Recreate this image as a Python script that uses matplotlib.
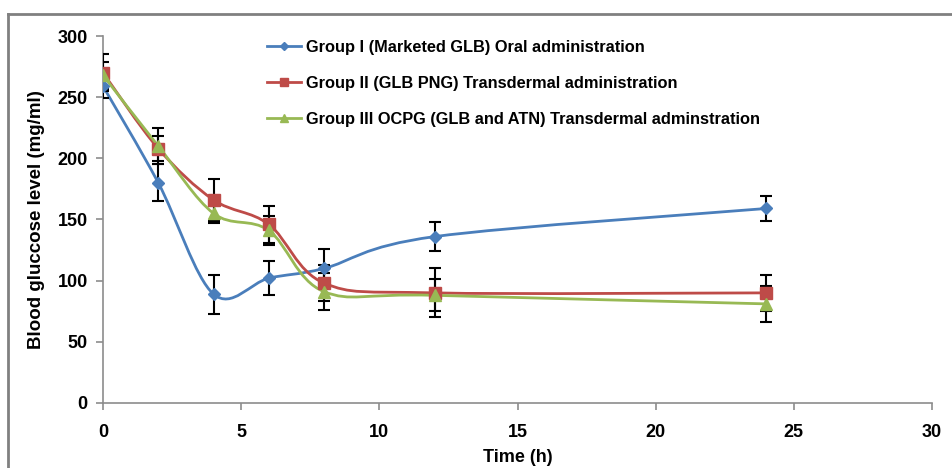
import numpy as np
import matplotlib.pyplot as plt
from matplotlib.path import Path
from matplotlib.patches import PathPatch
from matplotlib.lines import Line2D

plt.rcParams['font.family'] = ['Liberation Sans', 'DejaVu Sans']
plt.rcParams['font.weight'] = 'bold'

time_h = [0, 2, 4, 6, 8, 12, 24]

group1 = [259, 180, 89, 102, 110, 136, 159]
group1_err = [10, 15, 16, 14, 16, 12, 10.5]

group2 = [270, 208, 166, 146, 98, 90, 90]
group2_err = [15, 10, 17, 15, 15, 20, 15]

group3 = [268, 210, 155, 141, 91, 88, 81]
group3_err = [11, 15, 8, 12, 15, 13, 15]

labels = ["Group I (Marketed GLB) Oral administration",
          "Group II (GLB PNG) Transdermal administration",
          "Group III OCPG (GLB and ATN) Transdermal adminstration"]
colors = ['#4A7EBB', '#BE4B48', '#98B954']
markers = ['D', 's', '^']
marker_sizes = [6, 8, 8]


def smooth_path(x, y):
    # excel style smoothed line: bezier through each point, handles from neighbours
    pts = np.column_stack([x, y]).astype(float)
    verts = [pts[0]]
    codes = [Path.MOVETO]
    n = len(pts)
    for i in range(n - 1):
        p0 = pts[max(i - 1, 0)]
        p1 = pts[i]
        p2 = pts[i + 1]
        p3 = pts[min(i + 2, n - 1)]
        c1 = p1 + (p2 - p0) / 6.0
        c2 = p2 - (p3 - p1) / 6.0
        verts += [c1, c2, p2]
        codes += [Path.CURVE4] * 3
    return Path(verts, codes)


fig = plt.figure(figsize=(9.52, 4.68), dpi=100)
ax = fig.add_axes([0.1082, 0.139, 0.8708, 0.784])

series = [(group1, group1_err), (group2, group2_err), (group3, group3_err)]
handles = []
for (vals, errs), c, m, ms, lab in zip(series, colors, markers, marker_sizes, labels):
    ax.add_patch(PathPatch(smooth_path(time_h, vals), facecolor='none',
                           edgecolor=c, lw=2.0, zorder=2))
    ax.errorbar(time_h, vals, yerr=errs, fmt='none', ecolor='black',
                elinewidth=1.5, capsize=4, capthick=1.5, zorder=3)
    ax.plot(time_h, vals, linestyle='none', marker=m, color=c,
            markersize=ms, zorder=4)
    handles.append(Line2D([0], [0], color=c, lw=2.0, marker=m,
                          markersize=ms * 0.75, label=lab))

ax.set_xlim(0, 30)
ax.set_ylim(0, 300)
ax.set_xticks(range(0, 31, 5))
ax.set_yticks(range(0, 301, 50))

for s in ['top', 'right']:
    ax.spines[s].set_visible(False)
for s in ['left', 'bottom']:
    ax.spines[s].set_color('#8C8C8C')
    ax.spines[s].set_linewidth(1.2)
ax.tick_params(axis='both', direction='out', length=5, width=1.2,
               color='#8C8C8C', labelsize=13)
ax.tick_params(axis='x', pad=10)
ax.tick_params(axis='y', pad=6)
for t in ax.get_xticklabels() + ax.get_yticklabels():
    t.set_fontweight('bold')

ax.set_xlabel("Time (h)", fontsize=13, fontweight='bold', labelpad=6)
ax.set_ylabel("Blood gluccose level (mg/ml)", fontsize=13.5, fontweight='bold', labelpad=9)

leg = ax.legend(handles=handles, loc='upper left', bbox_to_anchor=(0.19, 1.008),
                frameon=False, fontsize=11.8, handlelength=2.1, handletextpad=0.3,
                labelspacing=1.28, borderaxespad=0)
for t in leg.get_texts():
    t.set_fontweight('bold')

# outer chart border (only top and left visible in the crop)
fig.add_artist(Line2D([0.0085, 0.0085], [0, 0.971], color='#808080', lw=2,
                      transform=fig.transFigure))
fig.add_artist(Line2D([0.0085, 1.0], [0.971, 0.971], color='#808080', lw=2,
                      transform=fig.transFigure))

fig.savefig("out.png", dpi=100)
